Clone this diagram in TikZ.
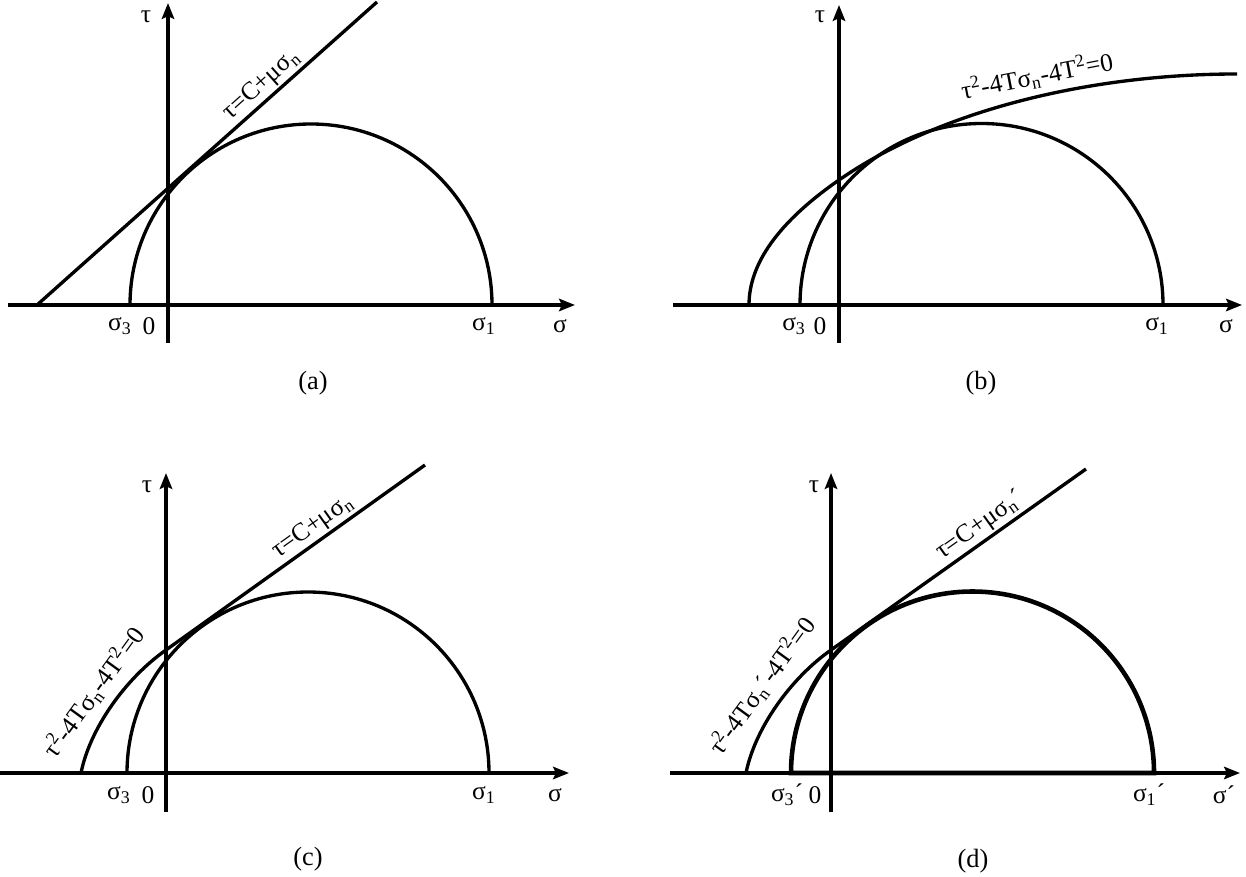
\documentclass[tikz,border=0pt]{standalone}
\usepackage{fontspec}
\setmainfont{Liberation Serif}
\usetikzlibrary{arrows.meta}

\begin{document}
\begin{tikzpicture}[
    x=0.02cm, y=0.02cm,
    axisline/.style={-{Stealth[length=9pt, width=7pt, inset=1.5pt]}, line width=1.9pt},
    mohr/.style={line width=1.9pt},
    envelope/.style={line width=1.9pt},
    lbl/.style={font=\fontsize{14.5}{16}\selectfont, inner sep=1pt},
    figlabel/.style={font=\fontsize{15}{17}\selectfont},
]
\useasboundingbox (0,0) rectangle (1246,876);

% (a) Coulomb line
\begin{scope}[shift={(168,571)}]
\draw[axisline] (-160,0) -- (407,0);
\draw[axisline] (0,-38) -- (0,302);
\draw[mohr] (-38,0) arc[start angle=180, end angle=0, radius=181];
\draw[envelope] (-131,0) -- (209,303) node[lbl, pos=0.69, sloped, above] (lawA) {τ=C+μσ\textsubscript{n}};
\node[lbl] (tauA) at (-22,288) {τ};
\node[lbl] (sigthreeA) at (-48,-21) {σ\textsubscript{3}};
\node[lbl] (zeroA) at (-19,-21) {0};
\node[lbl] (sigoneA) at (316,-21) {σ\textsubscript{1}};
\node[lbl] (sigA) at (392,-21) {σ};
\node[figlabel] (capA) at (145,-78) {(a)};
\end{scope}

% (b) Griffith envelope
\begin{scope}[shift={(839,571)}]
\draw[axisline] (-166,0) -- (403,0);
\draw[axisline] (0,-38) -- (0,300);
\draw[mohr] (-39,0) arc[start angle=180, end angle=0, radius=181.5];
\draw[envelope] (-90,0) .. controls (-90,41.7) and (-60,83.3) .. (0,125)
    .. controls (100,194.4) and (250,231) .. (398,231);
\node[lbl, rotate=11] (lawB) at (198,229) {τ\textsuperscript{2}-4Tσ\textsubscript{n}-4T\textsuperscript{2}=0};
\node[lbl] (tauB) at (-19,288) {τ};
\node[lbl] (sigthreeB) at (-45,-21) {σ\textsubscript{3}};
\node[lbl] (zeroB) at (-19,-21) {0};
\node[lbl] (sigoneB) at (318,-21) {σ\textsubscript{1}};
\node[lbl] (sigB) at (387,-21) {σ};
\node[figlabel] (capB) at (142,-78) {(b)};
\end{scope}

% (c) combined criterion
\begin{scope}[shift={(166,103)}]
\draw[axisline] (-166,0) -- (403,0);
\draw[axisline] (0,-39) -- (0,300);
\draw[mohr] (-39,0) arc[start angle=180, end angle=0, radius=181];
\draw[envelope] (-85,0) .. controls (-76,45) and (-40,95) .. (0,123);
\draw[envelope] (0,123) -- (259,308) node[lbl, pos=0.6, sloped, above] (lawC) {τ=C+μσ\textsubscript{n}};
\node[lbl, rotate=54] (griffC) at (-72,81) {τ\textsuperscript{2}-4Tσ\textsubscript{n}-4T\textsuperscript{2}=0};
\node[lbl] (tauC) at (-19,286) {τ};
\node[lbl] (sigthreeC) at (-47,-22) {σ\textsubscript{3}};
\node[lbl] (zeroC) at (-18,-22) {0};
\node[lbl] (sigoneC) at (318,-22) {σ\textsubscript{1}};
\node[lbl] (sigC) at (389,-22) {σ};
\node[figlabel] (capC) at (142,-86) {(c)};
\end{scope}

% (d) effective stresses
\begin{scope}[shift={(831,103)}]
\draw[axisline] (-161,0) -- (409,0);
\draw[axisline] (0,-39) -- (0,300);
\draw[mohr, line width=2.6pt] (-40,0) arc[start angle=180, end angle=0, radius=181.5] -- cycle;
\draw[envelope] (-85,0) .. controls (-76,45) and (-40,95) .. (0,123);
\draw[envelope] (0,123) -- (255,304) node[lbl, pos=0.62, sloped, above] (lawD) {τ=C+μσ\textsubscript{n}´};
\node[lbl, rotate=54] (griffD) at (-69,87) {τ\textsuperscript{2}-4Tσ\textsubscript{n}´-4T\textsuperscript{2}=0};
\node[lbl] (tauD) at (-17,286) {τ};
\node[lbl] (sigthreeD) at (-44,-22) {σ\textsubscript{3}´};
\node[lbl] (zeroD) at (-16,-22) {0};
\node[lbl] (sigoneD) at (318,-22) {σ\textsubscript{1}´};
\node[lbl] (sigD) at (393,-22) {σ´};
\node[figlabel] (capD) at (142,-88) {(d)};
\end{scope}

\end{tikzpicture}
\end{document}
